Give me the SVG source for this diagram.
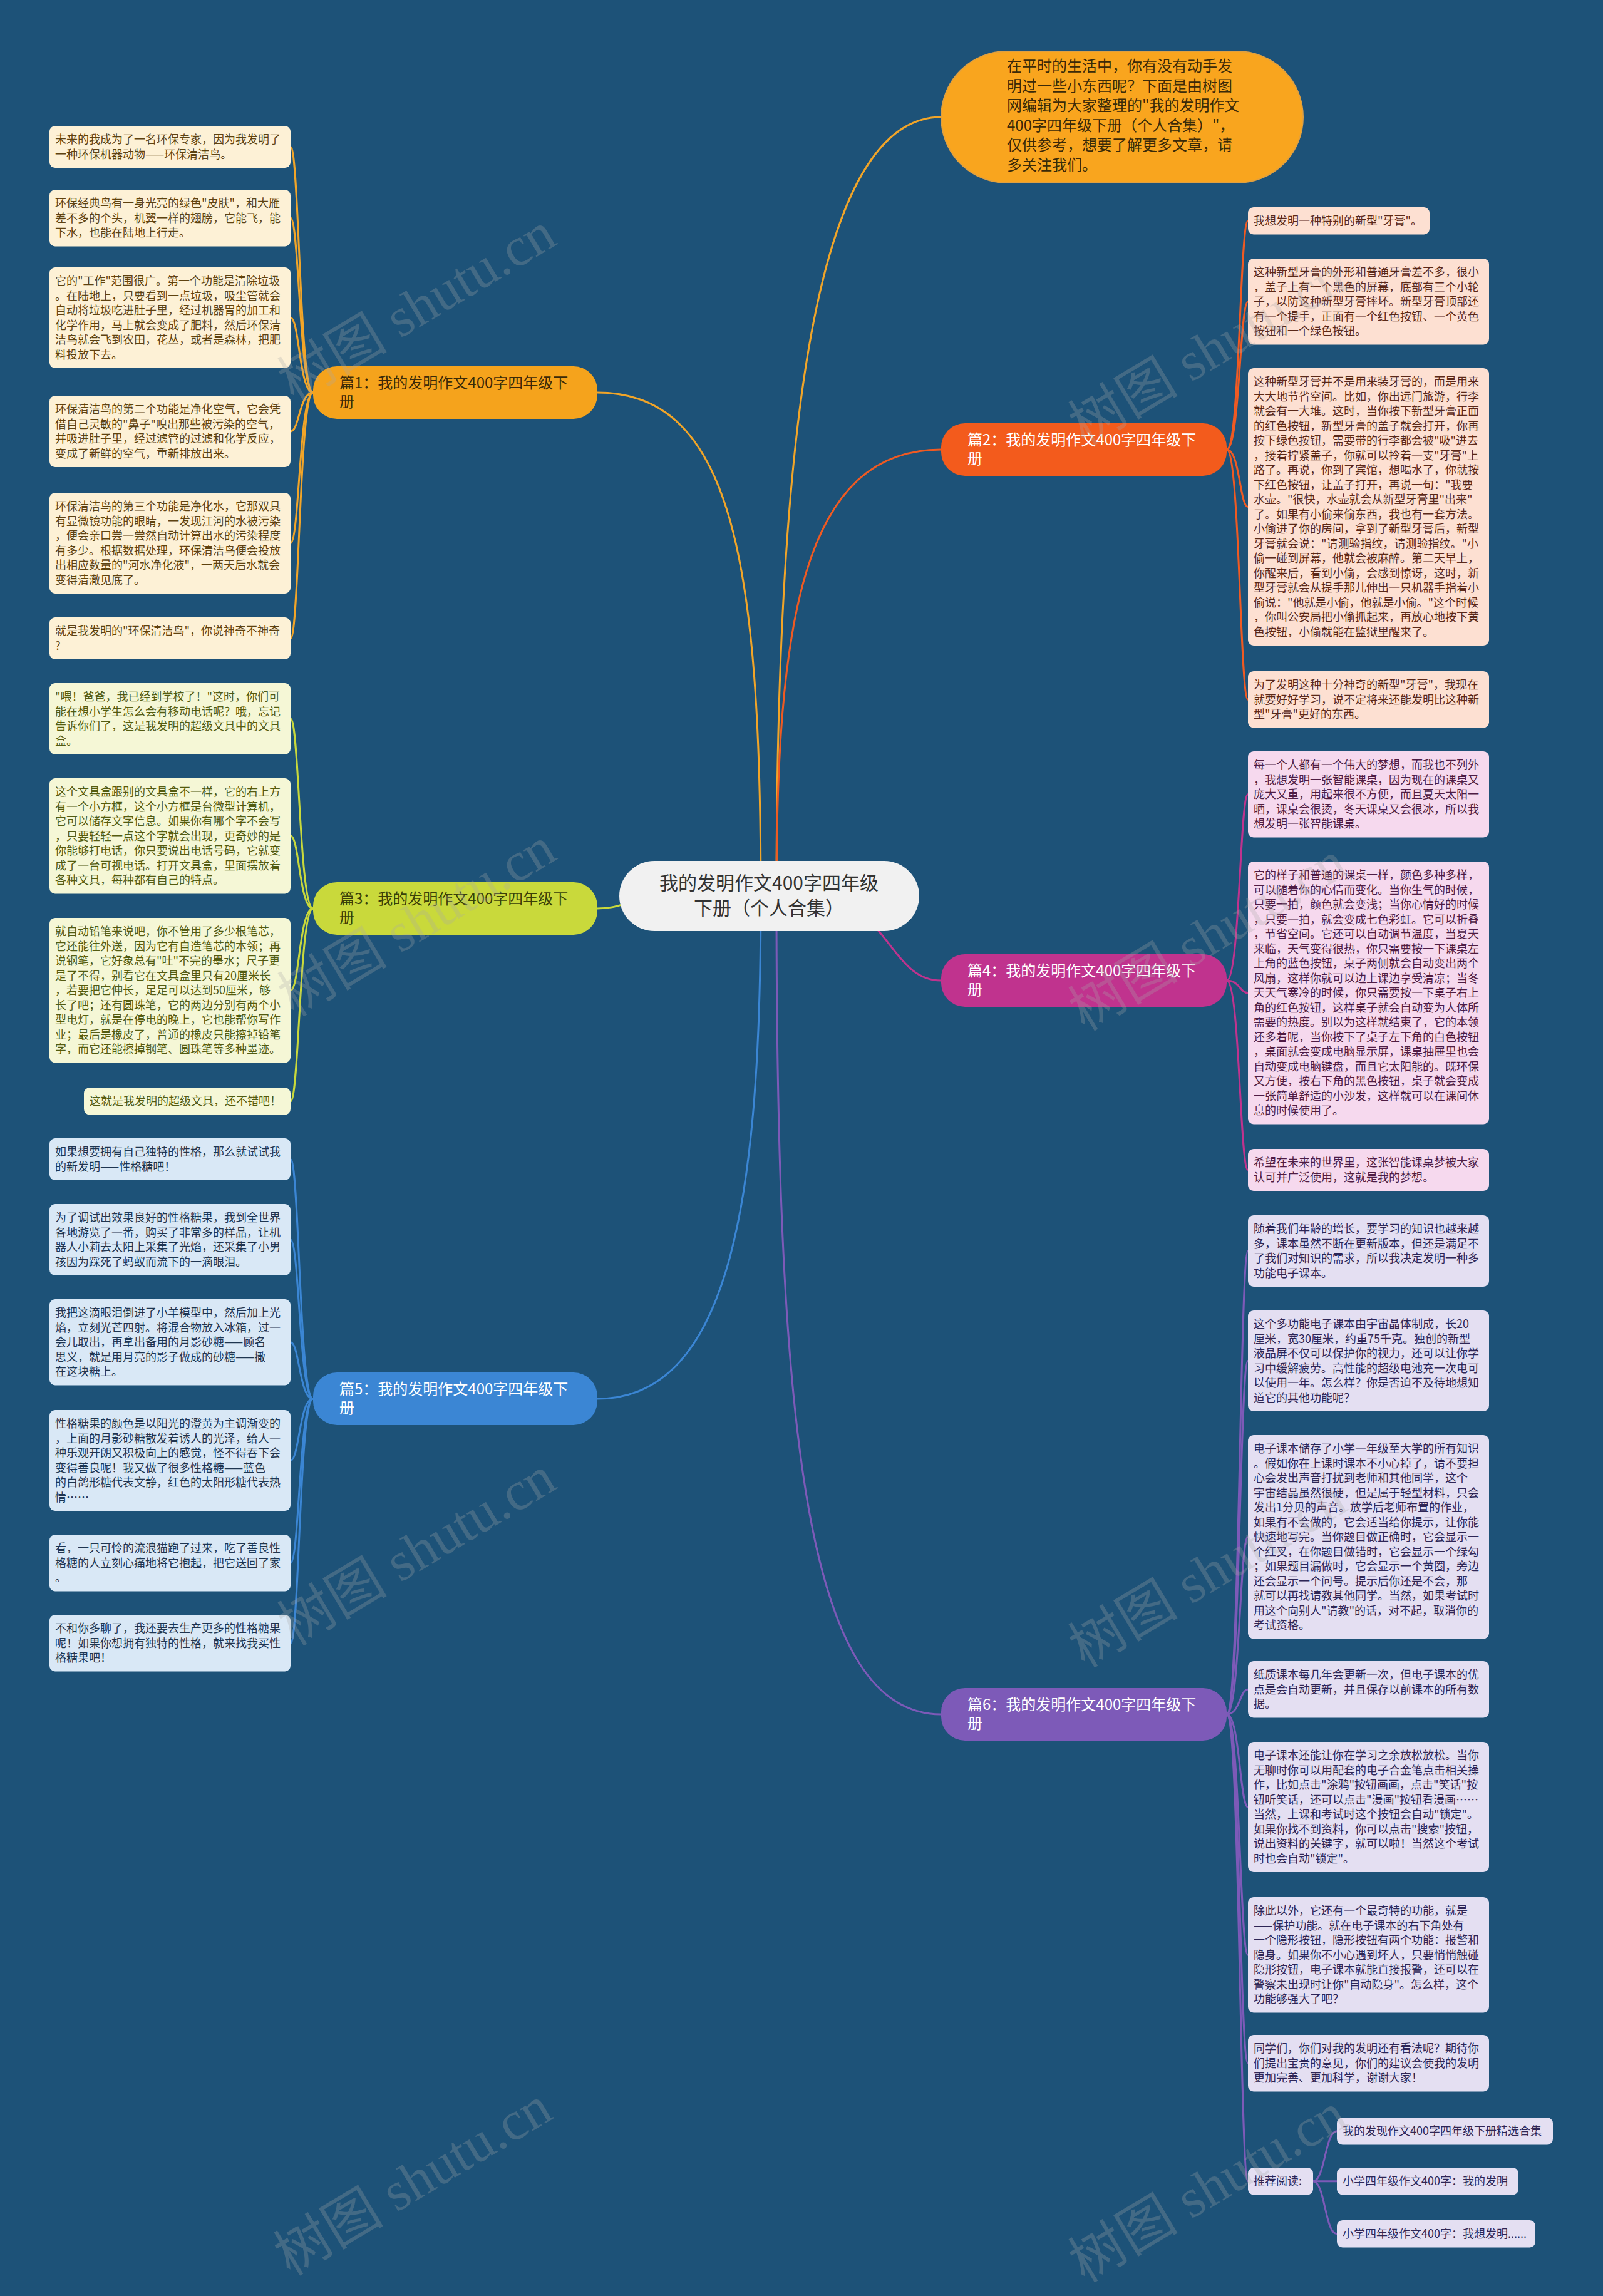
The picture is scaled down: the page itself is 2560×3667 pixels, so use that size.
<svg xmlns="http://www.w3.org/2000/svg" width="2560" height="3667" viewBox="0 0 2560 3667">
<style>
text{font-family:"Noto Sans CJK SC","Noto Sans",sans-serif}
.leaf{font-size:18px}
.b1{fill:#fdf1d6}.t1{fill:#5e4210}
.b2{fill:#fde0d2}.t2{fill:#5a2818}
.b3{fill:#f5f7d6}.t3{fill:#535b10}
.b4{fill:#f6d9ee}.t4{fill:#4e1c44}
.b5{fill:#d9e8f6}.t5{fill:#1f3550}
.b6{fill:#e4dff2}.t6{fill:#2e2656}
.br{font-size:24px}
.c1{stroke:#f2a528}.c2{stroke:#f05a22}.c3{stroke:#c9d93b}.c4{stroke:#c0338e}.c5{stroke:#3b86d4}.c6{stroke:#7d5ab8}
.conn path{fill:none;stroke-width:3}
.wm{font-family:"Liberation Serif","Noto Sans CJK SC",serif;font-size:88px;fill:#a8a8a8;fill-opacity:0.28}
</style>
<rect x="0" y="0" width="2560" height="3667" fill="#1d5278"/>

<g id="connectors" class="conn">
<path class="c1" d="M1240 1431 C1240 700 1300 187 1503 187"/>
<path class="c2" d="M1240 1431 C1240 1000 1280 718 1503 718"/>
<path class="c4" d="M1300 1431 C1420 1440 1420 1566 1503 1566"/>
<path class="c6" d="M1240 1431 C1240 2300 1290 2738 1503 2738"/>
<path class="c1" d="M1215 1431 C1215 900 1170 627 954 627"/>
<path class="c3" d="M1100 1431 C1000 1431 1000 1451 954 1451"/>
<path class="c5" d="M1215 1431 C1215 1900 1170 2234 954 2234"/>
<g stroke-width="2.5">
<path class="c1" d="M500 627 C478 627 478 234.5 464 234.5"/>
<path class="c1" d="M500 627 C478 627 478 348 464 348"/>
<path class="c1" d="M500 627 C478 627 478 507.5 464 507.5"/>
<path class="c1" d="M500 627 C478 627 478 689 464 689"/>
<path class="c1" d="M500 627 C478 627 478 867.5 464 867.5"/>
<path class="c1" d="M500 627 C478 627 478 1019.5 464 1019.5"/>
<path class="c3" d="M500 1451 C478 1451 478 1148 464 1148"/>
<path class="c3" d="M500 1451 C478 1451 478 1335 464 1335"/>
<path class="c3" d="M500 1451 C478 1451 478 1581.75 464 1581.75"/>
<path class="c3" d="M500 1451 C478 1451 478 1758.75 464 1758.75"/>
<path class="c5" d="M500 2234 C478 2234 478 1851.5 464 1851.5"/>
<path class="c5" d="M500 2234 C478 2234 478 1980 464 1980"/>
<path class="c5" d="M500 2234 C478 2234 478 2143.75 464 2143.75"/>
<path class="c5" d="M500 2234 C478 2234 478 2332.5 464 2332.5"/>
<path class="c5" d="M500 2234 C478 2234 478 2496.25 464 2496.25"/>
<path class="c5" d="M500 2234 C478 2234 478 2624.25 464 2624.25"/>
<path class="c2" d="M1959 718 C1980 718 1980 352.75 1993 352.75"/>
<path class="c2" d="M1959 718 C1980 718 1980 481.75 1993 481.75"/>
<path class="c2" d="M1959 718 C1980 718 1980 809.5 1993 809.5"/>
<path class="c2" d="M1959 718 C1980 718 1980 1117.25 1993 1117.25"/>
<path class="c4" d="M1959 1566 C1980 1566 1980 1268.75 1993 1268.75"/>
<path class="c4" d="M1959 1566 C1980 1566 1980 1585.75 1993 1585.75"/>
<path class="c4" d="M1959 1566 C1980 1566 1980 1868.5 1993 1868.5"/>
<path class="c6" d="M1959 2738 C1980 2738 1980 1998 1993 1998"/>
<path class="c6" d="M1959 2738 C1980 2738 1980 2173.5 1993 2173.5"/>
<path class="c6" d="M1959 2738 C1980 2738 1980 2454.75 1993 2454.75"/>
<path class="c6" d="M1959 2738 C1980 2738 1980 2698.25 1993 2698.25"/>
<path class="c6" d="M1959 2738 C1980 2738 1980 2886 1993 2886"/>
<path class="c6" d="M1959 2738 C1980 2738 1980 3122.25 1993 3122.25"/>
<path class="c6" d="M1959 2738 C1980 2738 1980 3295.25 1993 3295.25"/>
<path class="c6" d="M1959 2738 C1980 2738 1980 3483.75 1993 3483.75"/>
<path class="c6" d="M2097 3483.75 C2116 3483.75 2116 3403.75 2135 3403.75"/>
<path class="c6" d="M2097 3483.75 C2116 3483.75 2116 3483.75 2135 3483.75"/>
<path class="c6" d="M2097 3483.75 C2116 3483.75 2116 3567.75 2135 3567.75"/>
</g>
</g>

<g id="root">
<rect x="989" y="1375" width="479" height="112" rx="56" fill="#f1f1f1"/>
<text x="1228" y="1421" font-size="30" fill="#333333" text-anchor="middle">我的发明作文400字四年级</text>
<text x="1228" y="1461" font-size="30" fill="#333333" text-anchor="middle">下册（个人合集）</text>
</g>

<g id="intro">
<rect x="1503" y="82" width="578" height="210" rx="105" fill="#f9a51e" stroke="#e0a040" stroke-width="2"/>
<text font-size="24" fill="#3b2a08">
<tspan x="1608" y="114">在平时的生活中，你有没有动手发</tspan>
<tspan x="1608" y="145.5">明过一些小东西呢？下面是由树图</tspan>
<tspan x="1608" y="177">网编辑为大家整理的"我的发明作文</tspan>
<tspan x="1608" y="208.5">400字四年级下册（个人合集）"，</tspan>
<tspan x="1608" y="240">仅供参考，想要了解更多文章，请</tspan>
<tspan x="1608" y="271.5">多关注我们。</tspan>
</text>
</g>

<g id="p1">
<rect x="500" y="585" width="454" height="84" rx="38" fill="#f5a31c"/>
<text class="br" fill="#3b2a08"><tspan x="542" y="620">篇1：我的发明作文400字四年级下</tspan><tspan x="542" y="650">册</tspan></text>
</g>
<g id="p3">
<rect x="500" y="1409" width="454" height="84" rx="38" fill="#c9d93b"/>
<text class="br" fill="#3a4008"><tspan x="542" y="1444">篇3：我的发明作文400字四年级下</tspan><tspan x="542" y="1474">册</tspan></text>
</g>
<g id="p5">
<rect x="500" y="2192" width="454" height="84" rx="38" fill="#3b86d4"/>
<text class="br" fill="#ffffff"><tspan x="542" y="2227">篇5：我的发明作文400字四年级下</tspan><tspan x="542" y="2257">册</tspan></text>
</g>
<g id="p2">
<rect x="1503" y="676" width="456" height="84" rx="38" fill="#f35b1c"/>
<text class="br" fill="#ffffff"><tspan x="1545" y="711">篇2：我的发明作文400字四年级下</tspan><tspan x="1545" y="741">册</tspan></text>
</g>
<g id="p4">
<rect x="1503" y="1524" width="456" height="84" rx="38" fill="#c0338e"/>
<text class="br" fill="#ffffff"><tspan x="1545" y="1559">篇4：我的发明作文400字四年级下</tspan><tspan x="1545" y="1589">册</tspan></text>
</g>
<g id="p6">
<rect x="1503" y="2696" width="456" height="84" rx="38" fill="#7d5ab8"/>
<text class="br" fill="#ffffff"><tspan x="1545" y="2731">篇6：我的发明作文400字四年级下</tspan><tspan x="1545" y="2761">册</tspan></text>
</g>

<g id="l1a"><rect class="b1" x="79" y="201" width="385" height="67" rx="9"/>
<text class="leaf t1"><tspan x="88" y="229">未来的我成为了一名环保专家，因为我发明了</tspan><tspan x="88" dy="23.5">一种环保机器动物——环保清洁鸟。</tspan></text></g>
<g id="l1b"><rect class="b1" x="79" y="303" width="385" height="90.5" rx="9"/>
<text class="leaf t1"><tspan x="88" y="331">环保经典鸟有一身光亮的绿色"皮肤"，和大雁</tspan><tspan x="88" dy="23.5">差不多的个头，机翼一样的翅膀，它能飞，能</tspan><tspan x="88" dy="23.5">下水，也能在陆地上行走。</tspan></text></g>
<g id="l1c"><rect class="b1" x="79" y="427" width="385" height="161" rx="9"/>
<text class="leaf t1"><tspan x="88" y="455">它的"工作"范围很广。第一个功能是清除垃圾</tspan><tspan x="88" dy="23.5">。在陆地上，只要看到一点垃圾，吸尘管就会</tspan><tspan x="88" dy="23.5">自动将垃圾吃进肚子里，经过机器胃的加工和</tspan><tspan x="88" dy="23.5">化学作用，马上就会变成了肥料，然后环保清</tspan><tspan x="88" dy="23.5">洁鸟就会飞到农田，花丛，或者是森林，把肥</tspan><tspan x="88" dy="23.5">料投放下去。</tspan></text></g>
<g id="l1d"><rect class="b1" x="79" y="632" width="385" height="114" rx="9"/>
<text class="leaf t1"><tspan x="88" y="660">环保清洁鸟的第二个功能是净化空气，它会凭</tspan><tspan x="88" dy="23.5">借自己灵敏的"鼻子"嗅出那些被污染的空气，</tspan><tspan x="88" dy="23.5">并吸进肚子里，经过滤管的过滤和化学反应，</tspan><tspan x="88" dy="23.5">变成了新鲜的空气，重新排放出来。</tspan></text></g>
<g id="l1e"><rect class="b1" x="79" y="787" width="385" height="161" rx="9"/>
<text class="leaf t1"><tspan x="88" y="815">环保清洁鸟的第三个功能是净化水，它那双具</tspan><tspan x="88" dy="23.5">有显微镜功能的眼睛，一发现江河的水被污染</tspan><tspan x="88" dy="23.5">，便会亲口尝一尝然自动计算出水的污染程度</tspan><tspan x="88" dy="23.5">有多少。根据数据处理，环保清洁鸟便会投放</tspan><tspan x="88" dy="23.5">出相应数量的"河水净化液"，一两天后水就会</tspan><tspan x="88" dy="23.5">变得清澈见底了。</tspan></text></g>
<g id="l1f"><rect class="b1" x="79" y="986" width="385" height="67" rx="9"/>
<text class="leaf t1"><tspan x="88" y="1014">就是我发明的"环保清洁鸟"，你说神奇不神奇</tspan><tspan x="88" dy="23.5">?</tspan></text></g>

<g id="l3a"><rect class="b3" x="79" y="1091" width="385" height="114" rx="9"/>
<text class="leaf t3"><tspan x="88" y="1119">"喂！爸爸，我已经到学校了！"这时，你们可</tspan><tspan x="88" dy="23.5">能在想小学生怎么会有移动电话呢？哦，忘记</tspan><tspan x="88" dy="23.5">告诉你们了，这是我发明的超级文具中的文具</tspan><tspan x="88" dy="23.5">盒。</tspan></text></g>
<g id="l3b"><rect class="b3" x="79" y="1243" width="385" height="184.5" rx="9"/>
<text class="leaf t3"><tspan x="88" y="1271">这个文具盒跟别的文具盒不一样，它的右上方</tspan><tspan x="88" dy="23.5">有一个小方框，这个小方框是台微型计算机，</tspan><tspan x="88" dy="23.5">它可以储存文字信息。如果你有哪个字不会写</tspan><tspan x="88" dy="23.5">，只要轻轻一点这个字就会出现，更奇妙的是</tspan><tspan x="88" dy="23.5">你能够打电话，你只要说出电话号码，它就变</tspan><tspan x="88" dy="23.5">成了一台可视电话。打开文具盒，里面摆放着</tspan><tspan x="88" dy="23.5">各种文具，每种都有自己的特点。</tspan></text></g>
<g id="l3c"><rect class="b3" x="79" y="1466" width="385" height="231.5" rx="9"/>
<text class="leaf t3"><tspan x="88" y="1494">就自动铅笔来说吧，你不管用了多少根笔芯，</tspan><tspan x="88" dy="23.5">它还能往外送，因为它有自造笔芯的本领；再</tspan><tspan x="88" dy="23.5">说钢笔，它好象总有"吐"不完的墨水；尺子更</tspan><tspan x="88" dy="23.5">是了不得，别看它在文具盒里只有20厘米长</tspan><tspan x="88" dy="23.5">，若要把它伸长，足足可以达到50厘米，够</tspan><tspan x="88" dy="23.5">长了吧；还有圆珠笔，它的两边分别有两个小</tspan><tspan x="88" dy="23.5">型电灯，就是在停电的晚上，它也能帮你写作</tspan><tspan x="88" dy="23.5">业；最后是橡皮了，普通的橡皮只能擦掉铅笔</tspan><tspan x="88" dy="23.5">字，而它还能擦掉钢笔、圆珠笔等多种墨迹。</tspan></text></g>
<g id="l3d"><rect class="b3" x="134" y="1737" width="330" height="43.5" rx="9"/>
<text class="leaf t3"><tspan x="143" y="1765">这就是我发明的超级文具，还不错吧！</tspan></text></g>

<g id="l5a"><rect class="b5" x="79" y="1818" width="385" height="67" rx="9"/>
<text class="leaf t5"><tspan x="88" y="1846">如果想要拥有自己独特的性格，那么就试试我</tspan><tspan x="88" dy="23.5">的新发明——性格糖吧！</tspan></text></g>
<g id="l5b"><rect class="b5" x="79" y="1923" width="385" height="114" rx="9"/>
<text class="leaf t5"><tspan x="88" y="1951">为了调试出效果良好的性格糖果，我到全世界</tspan><tspan x="88" dy="23.5">各地游览了一番，购买了非常多的样品，让机</tspan><tspan x="88" dy="23.5">器人小莉去太阳上采集了光焰，还采集了小男</tspan><tspan x="88" dy="23.5">孩因为踩死了蚂蚁而流下的一滴眼泪。</tspan></text></g>
<g id="l5c"><rect class="b5" x="79" y="2075" width="385" height="137.5" rx="9"/>
<text class="leaf t5"><tspan x="88" y="2103">我把这滴眼泪倒进了小羊模型中，然后加上光</tspan><tspan x="88" dy="23.5">焰，立刻光芒四射。将混合物放入冰箱，过一</tspan><tspan x="88" dy="23.5">会儿取出，再拿出备用的月影砂糖——顾名</tspan><tspan x="88" dy="23.5">思义，就是用月亮的影子做成的砂糖——撒</tspan><tspan x="88" dy="23.5">在这块糖上。</tspan></text></g>
<g id="l5d"><rect class="b5" x="79" y="2252" width="385" height="161" rx="9"/>
<text class="leaf t5"><tspan x="88" y="2280">性格糖果的颜色是以阳光的澄黄为主调渐变的</tspan><tspan x="88" dy="23.5">，上面的月影砂糖散发着诱人的光泽，给人一</tspan><tspan x="88" dy="23.5">种乐观开朗又积极向上的感觉，怪不得吞下会</tspan><tspan x="88" dy="23.5">变得善良呢！我又做了很多性格糖——蓝色</tspan><tspan x="88" dy="23.5">的白鸽形糖代表文静，红色的太阳形糖代表热</tspan><tspan x="88" dy="23.5">情……</tspan></text></g>
<g id="l5e"><rect class="b5" x="79" y="2451" width="385" height="90.5" rx="9"/>
<text class="leaf t5"><tspan x="88" y="2479">看，一只可怜的流浪猫跑了过来，吃了善良性</tspan><tspan x="88" dy="23.5">格糖的人立刻心痛地将它抱起，把它送回了家</tspan><tspan x="88" dy="23.5">。</tspan></text></g>
<g id="l5f"><rect class="b5" x="79" y="2579" width="385" height="90.5" rx="9"/>
<text class="leaf t5"><tspan x="88" y="2607">不和你多聊了，我还要去生产更多的性格糖果</tspan><tspan x="88" dy="23.5">呢！如果你想拥有独特的性格，就来找我买性</tspan><tspan x="88" dy="23.5">格糖果吧！</tspan></text></g>

<g id="r2a"><rect class="b2" x="1993" y="331" width="290" height="43.5" rx="9"/>
<text class="leaf t2"><tspan x="2002" y="359">我想发明一种特别的新型"牙膏"。</tspan></text></g>
<g id="r2b"><rect class="b2" x="1993" y="413" width="385" height="137.5" rx="9"/>
<text class="leaf t2"><tspan x="2002" y="441">这种新型牙膏的外形和普通牙膏差不多，很小</tspan><tspan x="2002" dy="23.5">，盖子上有一个黑色的屏幕，底部有三个小轮</tspan><tspan x="2002" dy="23.5">子，以防这种新型牙膏摔坏。新型牙膏顶部还</tspan><tspan x="2002" dy="23.5">有一个提手，正面有一个红色按钮、一个黄色</tspan><tspan x="2002" dy="23.5">按钮和一个绿色按钮。</tspan></text></g>
<g id="r2c"><rect class="b2" x="1993" y="588" width="385" height="443" rx="9"/>
<text class="leaf t2"><tspan x="2002" y="616">这种新型牙膏并不是用来装牙膏的，而是用来</tspan><tspan x="2002" dy="23.5">大大地节省空间。比如，你出远门旅游，行李</tspan><tspan x="2002" dy="23.5">就会有一大堆。这时，当你按下新型牙膏正面</tspan><tspan x="2002" dy="23.5">的红色按钮，新型牙膏的盖子就会打开，你再</tspan><tspan x="2002" dy="23.5">按下绿色按钮，需要带的行李都会被"吸"进去</tspan><tspan x="2002" dy="23.5">，接着拧紧盖子，你就可以拎着一支"牙膏"上</tspan><tspan x="2002" dy="23.5">路了。再说，你到了宾馆，想喝水了，你就按</tspan><tspan x="2002" dy="23.5">下红色按钮，让盖子打开，再说一句："我要</tspan><tspan x="2002" dy="23.5">水壶。"很快，水壶就会从新型牙膏里"出来"</tspan><tspan x="2002" dy="23.5">了。如果有小偷来偷东西，我也有一套方法。</tspan><tspan x="2002" dy="23.5">小偷进了你的房间，拿到了新型牙膏后，新型</tspan><tspan x="2002" dy="23.5">牙膏就会说："请测验指纹，请测验指纹。"小</tspan><tspan x="2002" dy="23.5">偷一碰到屏幕，他就会被麻醉。第二天早上，</tspan><tspan x="2002" dy="23.5">你醒来后，看到小偷，会感到惊讶，这时，新</tspan><tspan x="2002" dy="23.5">型牙膏就会从提手那儿伸出一只机器手指着小</tspan><tspan x="2002" dy="23.5">偷说："他就是小偷，他就是小偷。"这个时候</tspan><tspan x="2002" dy="23.5">，你叫公安局把小偷抓起来，再放心地按下黄</tspan><tspan x="2002" dy="23.5">色按钮，小偷就能在监狱里醒来了。</tspan></text></g>
<g id="r2d"><rect class="b2" x="1993" y="1072" width="385" height="90.5" rx="9"/>
<text class="leaf t2"><tspan x="2002" y="1100">为了发明这种十分神奇的新型"牙膏"，我现在</tspan><tspan x="2002" dy="23.5">就要好好学习，说不定将来还能发明比这种新</tspan><tspan x="2002" dy="23.5">型"牙膏"更好的东西。</tspan></text></g>

<g id="r4a"><rect class="b4" x="1993" y="1200" width="385" height="137.5" rx="9"/>
<text class="leaf t4"><tspan x="2002" y="1228">每一个人都有一个伟大的梦想，而我也不列外</tspan><tspan x="2002" dy="23.5">，我想发明一张智能课桌，因为现在的课桌又</tspan><tspan x="2002" dy="23.5">庞大又重，用起来很不方便，而且夏天太阳一</tspan><tspan x="2002" dy="23.5">晒，课桌会很烫，冬天课桌又会很冰，所以我</tspan><tspan x="2002" dy="23.5">想发明一张智能课桌。</tspan></text></g>
<g id="r4b"><rect class="b4" x="1993" y="1376" width="385" height="419.5" rx="9"/>
<text class="leaf t4"><tspan x="2002" y="1404">它的样子和普通的课桌一样，颜色多种多样，</tspan><tspan x="2002" dy="23.5">可以随着你的心情而变化。当你生气的时候，</tspan><tspan x="2002" dy="23.5">只要一拍，颜色就会变浅；当你心情好的时候</tspan><tspan x="2002" dy="23.5">，只要一拍，就会变成七色彩虹。它可以折叠</tspan><tspan x="2002" dy="23.5">，节省空间。它还可以自动调节温度，当夏天</tspan><tspan x="2002" dy="23.5">来临，天气变得很热，你只需要按一下课桌左</tspan><tspan x="2002" dy="23.5">上角的蓝色按钮，桌子两侧就会自动变出两个</tspan><tspan x="2002" dy="23.5">风扇，这样你就可以边上课边享受清凉；当冬</tspan><tspan x="2002" dy="23.5">天天气寒冷的时候，你只需要按一下桌子右上</tspan><tspan x="2002" dy="23.5">角的红色按钮，这样桌子就会自动变为人体所</tspan><tspan x="2002" dy="23.5">需要的热度。别以为这样就结束了，它的本领</tspan><tspan x="2002" dy="23.5">还多着呢，当你按下了桌子左下角的白色按钮</tspan><tspan x="2002" dy="23.5">，桌面就会变成电脑显示屏，课桌抽屉里也会</tspan><tspan x="2002" dy="23.5">自动变成电脑键盘，而且它太阳能的。既环保</tspan><tspan x="2002" dy="23.5">又方便，按右下角的黑色按钮，桌子就会变成</tspan><tspan x="2002" dy="23.5">一张简单舒适的小沙发，这样就可以在课间休</tspan><tspan x="2002" dy="23.5">息的时候使用了。</tspan></text></g>
<g id="r4c"><rect class="b4" x="1993" y="1835" width="385" height="67" rx="9"/>
<text class="leaf t4"><tspan x="2002" y="1863">希望在未来的世界里，这张智能课桌梦被大家</tspan><tspan x="2002" dy="23.5">认可并广泛使用，这就是我的梦想。</tspan></text></g>

<g id="r6a"><rect class="b6" x="1993" y="1941" width="385" height="114" rx="9"/>
<text class="leaf t6"><tspan x="2002" y="1969">随着我们年龄的增长，要学习的知识也越来越</tspan><tspan x="2002" dy="23.5">多，课本虽然不断在更新版本，但还是满足不</tspan><tspan x="2002" dy="23.5">了我们对知识的需求，所以我决定发明一种多</tspan><tspan x="2002" dy="23.5">功能电子课本。</tspan></text></g>
<g id="r6b"><rect class="b6" x="1993" y="2093" width="385" height="161" rx="9"/>
<text class="leaf t6"><tspan x="2002" y="2121">这个多功能电子课本由宇宙晶体制成，长20</tspan><tspan x="2002" dy="23.5">厘米，宽30厘米，约重75千克。独创的新型</tspan><tspan x="2002" dy="23.5">液晶屏不仅可以保护你的视力，还可以让你学</tspan><tspan x="2002" dy="23.5">习中缓解疲劳。高性能的超级电池充一次电可</tspan><tspan x="2002" dy="23.5">以使用一年。怎么样？你是否迫不及待地想知</tspan><tspan x="2002" dy="23.5">道它的其他功能呢？</tspan></text></g>
<g id="r6c"><rect class="b6" x="1993" y="2292" width="385" height="325.5" rx="9"/>
<text class="leaf t6"><tspan x="2002" y="2320">电子课本储存了小学一年级至大学的所有知识</tspan><tspan x="2002" dy="23.5">。假如你在上课时课本不小心掉了，请不要担</tspan><tspan x="2002" dy="23.5">心会发出声音打扰到老师和其他同学，这个</tspan><tspan x="2002" dy="23.5">宇宙结晶虽然很硬，但是属于轻型材料，只会</tspan><tspan x="2002" dy="23.5">发出1分贝的声音。放学后老师布置的作业，</tspan><tspan x="2002" dy="23.5">如果有不会做的，它会适当给你提示，让你能</tspan><tspan x="2002" dy="23.5">快速地写完。当你题目做正确时，它会显示一</tspan><tspan x="2002" dy="23.5">个红叉，在你题目做错时，它会显示一个绿勾</tspan><tspan x="2002" dy="23.5">；如果题目漏做时，它会显示一个黄圈，旁边</tspan><tspan x="2002" dy="23.5">还会显示一个问号。提示后你还是不会，那</tspan><tspan x="2002" dy="23.5">就可以再找请教其他同学。当然，如果考试时</tspan><tspan x="2002" dy="23.5">用这个向别人"请教"的话，对不起，取消你的</tspan><tspan x="2002" dy="23.5">考试资格。</tspan></text></g>
<g id="r6d"><rect class="b6" x="1993" y="2653" width="385" height="90.5" rx="9"/>
<text class="leaf t6"><tspan x="2002" y="2681">纸质课本每几年会更新一次，但电子课本的优</tspan><tspan x="2002" dy="23.5">点是会自动更新，并且保存以前课本的所有数</tspan><tspan x="2002" dy="23.5">据。</tspan></text></g>
<g id="r6e"><rect class="b6" x="1993" y="2782" width="385" height="208" rx="9"/>
<text class="leaf t6"><tspan x="2002" y="2810">电子课本还能让你在学习之余放松放松。当你</tspan><tspan x="2002" dy="23.5">无聊时你可以用配套的电子合金笔点击相关操</tspan><tspan x="2002" dy="23.5">作，比如点击"涂鸦"按钮画画，点击"笑话"按</tspan><tspan x="2002" dy="23.5">钮听笑话，还可以点击"漫画"按钮看漫画……</tspan><tspan x="2002" dy="23.5">当然，上课和考试时这个按钮会自动"锁定"。</tspan><tspan x="2002" dy="23.5">如果你找不到资料，你可以点击"搜索"按钮，</tspan><tspan x="2002" dy="23.5">说出资料的关键字，就可以啦！当然这个考试</tspan><tspan x="2002" dy="23.5">时也会自动"锁定"。</tspan></text></g>
<g id="r6f"><rect class="b6" x="1993" y="3030" width="385" height="184.5" rx="9"/>
<text class="leaf t6"><tspan x="2002" y="3058">除此以外，它还有一个最奇特的功能，就是</tspan><tspan x="2002" dy="23.5">——保护功能。就在电子课本的右下角处有</tspan><tspan x="2002" dy="23.5">一个隐形按钮，隐形按钮有两个功能：报警和</tspan><tspan x="2002" dy="23.5">隐身。如果你不小心遇到坏人，只要悄悄触碰</tspan><tspan x="2002" dy="23.5">隐形按钮，电子课本就能直接报警，还可以在</tspan><tspan x="2002" dy="23.5">警察未出现时让你"自动隐身"。怎么样，这个</tspan><tspan x="2002" dy="23.5">功能够强大了吧？</tspan></text></g>
<g id="r6g"><rect class="b6" x="1993" y="3250" width="385" height="90.5" rx="9"/>
<text class="leaf t6"><tspan x="2002" y="3278">同学们，你们对我的发明还有看法呢？期待你</tspan><tspan x="2002" dy="23.5">们提出宝贵的意见，你们的建议会使我的发明</tspan><tspan x="2002" dy="23.5">更加完善、更加科学，谢谢大家！</tspan></text></g>
<g id="r6h"><rect class="b6" x="1993" y="3462" width="104" height="43.5" rx="9"/>
<text class="leaf t6"><tspan x="2002" y="3490">推荐阅读:</tspan></text></g>
<g id="rec1"><rect class="b6" x="2135" y="3382" width="345" height="43.5" rx="9"/>
<text class="leaf t6"><tspan x="2144" y="3410">我的发现作文400字四年级下册精选合集</tspan></text></g>
<g id="rec2"><rect class="b6" x="2135" y="3462" width="290" height="43.5" rx="9"/>
<text class="leaf t6"><tspan x="2144" y="3490">小学四年级作文400字：我的发明</tspan></text></g>
<g id="rec3"><rect class="b6" x="2135" y="3546" width="317" height="43.5" rx="9"/>
<text class="leaf t6"><tspan x="2144" y="3574">小学四年级作文400字：我想发明......</tspan></text></g>

<g id="watermarks">
<text class="wm" x="666" y="520" text-anchor="middle" transform="rotate(-31 666 491)">树图 shutu.cn</text>
<text class="wm" x="666" y="1502" text-anchor="middle" transform="rotate(-31 666 1473)">树图 shutu.cn</text>
<text class="wm" x="666" y="2507" text-anchor="middle" transform="rotate(-31 666 2478)">树图 shutu.cn</text>
<text class="wm" x="660" y="3513" text-anchor="middle" transform="rotate(-31 660 3484)">树图 shutu.cn</text>
<text class="wm" x="1929" y="590" text-anchor="middle" transform="rotate(-31 1929 561)">树图 shutu.cn</text>
<text class="wm" x="1929" y="1525" text-anchor="middle" transform="rotate(-31 1929 1496)">树图 shutu.cn</text>
<text class="wm" x="1929" y="2542" text-anchor="middle" transform="rotate(-31 1929 2513)">树图 shutu.cn</text>
<text class="wm" x="1929" y="3524" text-anchor="middle" transform="rotate(-31 1929 3495)">树图 shutu.cn</text>
</g>
</svg>
